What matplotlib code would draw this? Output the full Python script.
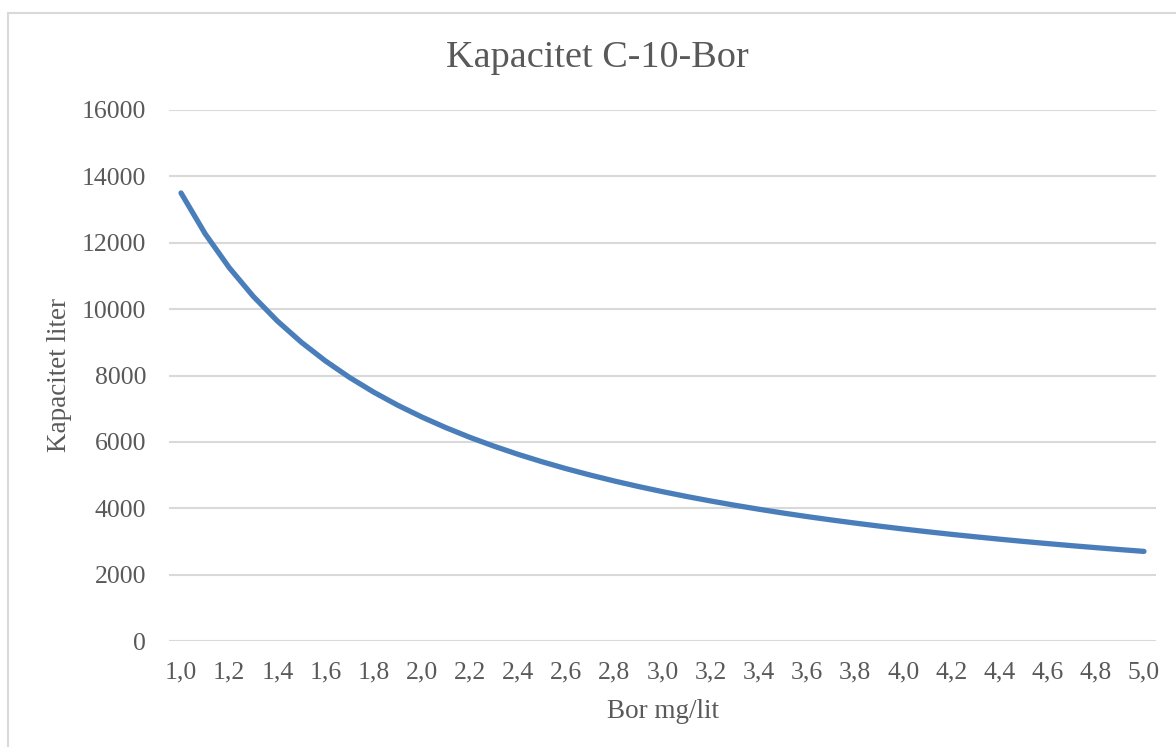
import matplotlib
matplotlib.use("Agg")
import matplotlib.pyplot as plt
from matplotlib.patches import Rectangle

categories = ["1,0", "1,1", "1,2", "1,3", "1,4", "1,5", "1,6", "1,7", "1,8", "1,9",
              "2,0", "2,1", "2,2", "2,3", "2,4", "2,5", "2,6", "2,7", "2,8", "2,9",
              "3,0", "3,1", "3,2", "3,3", "3,4", "3,5", "3,6", "3,7", "3,8", "3,9",
              "4,0", "4,1", "4,2", "4,3", "4,4", "4,5", "4,6", "4,7", "4,8", "4,9",
              "5,0"]
kapacitet = [13500, 12273, 11250, 10385, 9643, 9000, 8438, 7941, 7500, 7105,
             6750, 6429, 6136, 5870, 5625, 5400, 5192, 5000, 4821, 4655,
             4500, 4355, 4219, 4091, 3971, 3857, 3750, 3649, 3553, 3462,
             3375, 3293, 3214, 3140, 3068, 3000, 2935, 2872, 2813, 2755,
             2700]
y_ticks = [0, 2000, 4000, 6000, 8000, 10000, 12000, 14000, 16000]

title = "Kapacitet C-10-Bor"
xlabel = "Bor mg/lit"
ylabel = "Kapacitet liter"

plt.rcParams['font.family'] = ['Liberation Serif', 'DejaVu Serif']
text_color = "#595959"
grid_color = "#d9d9d9"
line_color = "#4a7ebb"

W, H = 1176, 747
fig = plt.figure(figsize=(W / 100, H / 100), dpi=100)

# chart frame
fig.patches.append(Rectangle((8 / W, -0.01), 1.2, 1 - 13 / H + 0.01, transform=fig.transFigure,
                             fill=False, edgecolor="#d9d9d9", linewidth=1.5))

ax = fig.add_axes([169 / W, 1 - 641 / H, (1156 - 169) / W, (641 - 110) / H])
x = list(range(len(categories)))
ax.plot(x, kapacitet, color=line_color, linewidth=3.8, solid_capstyle="round", zorder=3)

ax.set_xlim(-0.5, len(categories) - 0.5)
ax.set_ylim(0, 16000)
ax.set_yticks(y_ticks)
ax.set_yticklabels([str(v) for v in y_ticks])
ax.set_xticks(x[::2])
ax.set_xticklabels(categories[::2])
ax.yaxis.grid(True, color=grid_color, linewidth=1.5)
ax.set_axisbelow(True)
for s in ax.spines.values():
    s.set_visible(False)
ax.tick_params(axis="both", length=0, labelsize=18.5, colors=text_color)
ax.tick_params(axis="y", pad=16.5)
ax.tick_params(axis="x", pad=15)

fig.text(597 / W, 1 - 58 / H, title, ha="center", va="center", fontsize=27.5, color=text_color)
fig.text(663 / W, 1 - 712 / H, xlabel, ha="center", va="center", fontsize=19.5, color=text_color)
fig.text(60 / W, 1 - 375 / H, ylabel, ha="center", va="center", rotation=90, fontsize=19.5, color=text_color)

fig.savefig("out.png", dpi=100)
